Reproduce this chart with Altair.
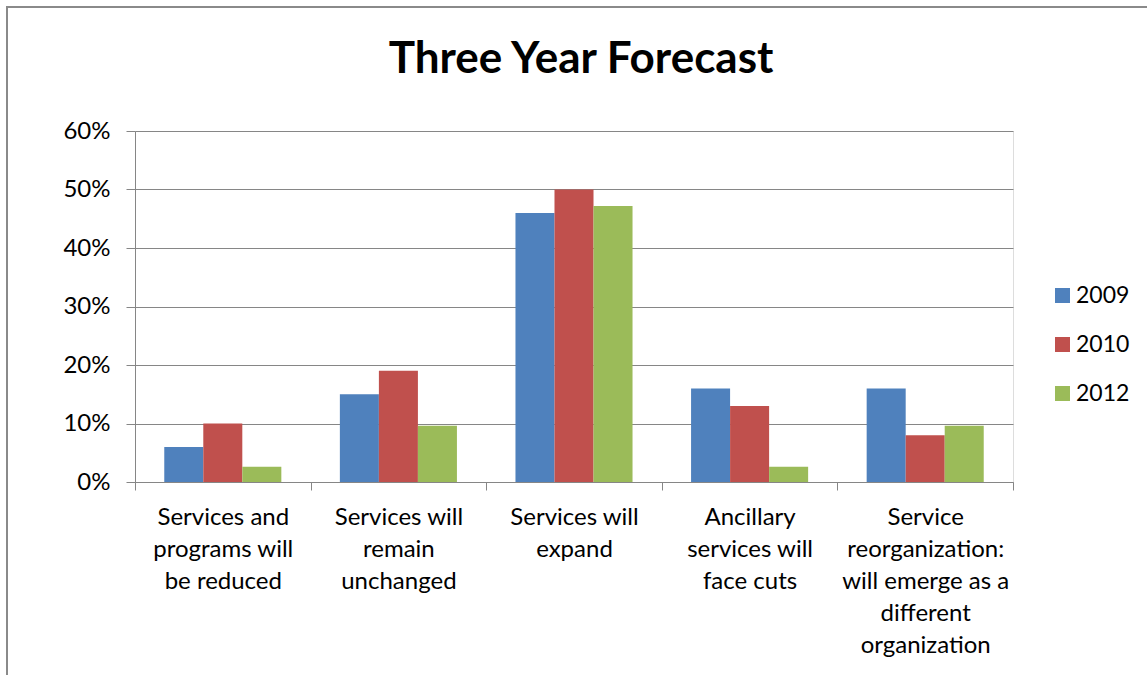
import altair as alt
import pandas as pd

categories = [
    "Services and|programs will|be reduced",
    "Services will|remain|unchanged",
    "Services will|expand",
    "Ancillary|services will|face cuts",
    "Service|reorganization:|will emerge as a|different|organization",
]
years = ["2009", "2010", "2012"]
v2009 = [0.06, 0.15, 0.46, 0.16, 0.16]
v2010 = [0.10, 0.19, 0.50, 0.13, 0.08]
v2012 = [0.026, 0.096, 0.472, 0.026, 0.096]
colors = ["#4F81BD", "#C0504D", "#9BBB59"]
title_text = "Three Year Forecast"

rows = []
for yr, vals in zip(years, [v2009, v2010, v2012]):
    for c, v in zip(categories, vals):
        rows.append({"category": c, "year": yr, "value": v})
df = pd.DataFrame(rows)

FONT = "Lato"
FS = 24
W, H = 878, 351

bars = alt.Chart(df).mark_bar().encode(
    x=alt.X("category:N", sort=categories, title=None,
            scale=alt.Scale(paddingInner=0, paddingOuter=0),
            axis=alt.Axis(labelAngle=0, labelExpr="split(datum.label, '|')",
                          labelFont=FONT, labelFontSize=FS, labelColor="#000000",
                          labelLineHeight=32, labelPadding=15, labelBaseline="top",
                          tickBand="extent", tickSize=8, tickColor="#868686",
                          domainColor="#868686", labelLimit=300)),
    xOffset=alt.XOffset("year:N", sort=years,
                        scale=alt.Scale(paddingInner=0, paddingOuter=0.75)),
    y=alt.Y("value:Q", title=None,
            scale=alt.Scale(domain=[0, 0.6]),
            axis=alt.Axis(format=".0%", values=[0, 0.1, 0.2, 0.3, 0.4, 0.5, 0.6],
                          labelFont=FONT, labelFontSize=FS, labelColor="#000000",
                          labelPadding=16, tickSize=9, tickColor="#868686",
                          domainColor="#868686", gridColor="#868686")),
    color=alt.Color("year:N", sort=years, title=None,
                    scale=alt.Scale(domain=years, range=colors),
                    legend=alt.Legend(orient="none", legendX=916, legendY=153,
                                      symbolType="square", symbolSize=225,
                                      symbolStrokeWidth=0, labelFont=FONT,
                                      labelFontSize=23, labelColor="#000000",
                                      rowPadding=25, labelOffset=2)),
)

border = alt.Chart(pd.DataFrame({"a": [0]})).mark_rect(
    fill=None, stroke="#8a8a8a", strokeWidth=2
).encode(
    x=alt.value(-128), x2=alt.value(W + 300),
    y=alt.value(-124), y2=alt.value(H + 300),
)

title = alt.Chart(pd.DataFrame({"t": [title_text]})).mark_text(
    font=FONT, fontSize=44, fontWeight="bold", color="#000000",
    align="center", baseline="alphabetic"
).encode(text="t:N", x=alt.value(446), y=alt.value(-58))

chart = alt.layer(border, bars, title).properties(
    width=W, height=H,
    padding={"left": 135, "top": 131, "right": 134, "bottom": 193},
    autosize=alt.AutoSizeParams(type="none"),
).configure_view(stroke=None).configure(background="white")

chart.save("out.html", embed_options={"renderer": "svg", "actions": False})
